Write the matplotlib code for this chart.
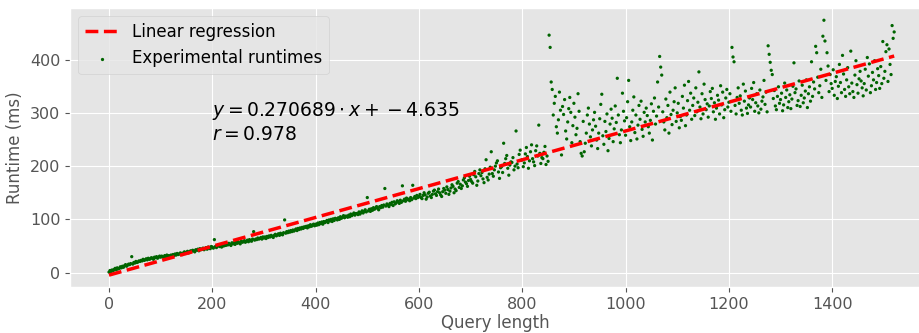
import numpy as np
import matplotlib
matplotlib.use("Agg")
import matplotlib.pyplot as plt

# ---- data ----
# Dense band: query lengths 0..838, every 2
x_band = np.arange(0, 840, 2)
y_band = [
    1, 4, 2, 5, 3, 6, 8, 5, 9, 7,
    8, 11, 9, 12, 10, 13, 15, 12, 14, 16,
    15, 17, 30, 16, 19, 18, 21, 19, 20, 22,
    21, 23, 22, 25, 23, 24, 26, 24, 27, 25,
    26, 28, 27, 25, 29, 28, 30, 27, 29, 31,
    29, 31, 30, 28, 32, 30, 33, 31, 32, 30,
    33, 31, 34, 32, 35, 33, 36, 34, 35, 37,
    36, 34, 37, 39, 36, 38, 40, 37, 39, 41,
    40, 42, 41, 39, 43, 42, 44, 41, 45, 43,
    44, 46, 43, 45, 47, 44, 48, 46, 45, 49,
    48, 46, 62, 49, 47, 50, 52, 49, 51, 48,
    52, 50, 53, 51, 54, 52, 55, 53, 51, 56,
    54, 56, 53, 57, 55, 58, 56, 54, 59, 57,
    58, 60, 57, 59, 61, 58, 62, 60, 59, 63,
    77, 61, 63, 62, 65, 63, 64, 66, 63, 67,
    65, 67, 64, 68, 66, 69, 67, 70, 68, 66,
    70, 72, 69, 71, 73, 70, 74, 72, 71, 75,
    99, 74, 77, 75, 78, 76, 79, 77, 80, 78,
    80, 82, 79, 83, 81, 84, 82, 85, 83, 86,
    85, 87, 84, 88, 86, 90, 87, 89, 91, 88,
    91, 89, 93, 90, 94, 92, 95, 91, 96, 94,
    96, 98, 94, 99, 97, 100, 96, 101, 98, 102,
    101, 99, 103, 100, 105, 102, 104, 107, 103, 106,
    106, 104, 108, 105, 110, 107, 109, 112, 108, 111,
    111, 109, 114, 110, 113, 116, 112, 115, 118, 114,
    141, 116, 119, 115, 120, 117, 122, 119, 121, 124,
    121, 118, 124, 122, 126, 123, 127, 158, 125, 129,
    127, 124, 130, 128, 132, 126, 133, 129, 131, 135,
    133, 130, 136, 132, 163, 135, 138, 134, 140, 137,
    138, 135, 141, 137, 164, 140, 143, 139, 145, 141,
    143, 147, 141, 139, 145, 150, 146, 138, 142, 149,
    151, 144, 141, 147, 153, 155, 148, 145, 152, 157,
    150, 146, 143, 152, 158, 155, 149, 161, 156, 147,
    153, 159, 165, 162, 150, 157, 154, 168, 171, 160,
    166, 158, 163, 174, 178, 170, 167, 162, 173, 181,
    175, 171, 168, 184, 190, 180, 164, 172, 186, 193,
    182, 188, 176, 169, 195, 212, 179, 174, 185, 198,
    227, 186, 181, 193, 200, 206, 210, 189, 177, 197,
    199, 188, 243, 205, 214, 220, 196, 183, 202, 208,
    207, 216, 193, 200, 266, 204, 197, 222, 230, 211,
    212, 199, 206, 223, 235, 218, 196, 210, 227, 240,
    214, 208, 201, 229, 238, 219, 277, 224, 205, 216,
]

# Scattered part: query lengths 840..1520, every 2
x_spread = np.arange(840, 1522, 2)
y_spread = [
    214, 226, 237, 203, 219, 209, 446, 423, 358, 344,
    296, 318, 331, 274, 262, 287, 339, 305, 221, 312,
    297, 325, 266, 251, 283, 308, 329, 301, 244, 276,
    318, 292, 259, 271, 336, 303, 246, 224, 219, 284,
    227, 243, 262, 296, 309, 279, 255, 238, 268, 287,
    301, 275, 249, 233, 262, 289, 316, 335, 257, 241,
    284, 265, 298, 229, 252, 279, 307, 290, 246, 270,
    313, 282, 365, 296, 259, 244, 268, 337, 303, 285,
    258, 291, 321, 361, 274, 248, 283, 305, 330, 263,
    296, 251, 277, 314, 288, 322, 269, 256, 301, 283,
    309, 295, 274, 262, 286, 317, 249, 303, 328, 279,
    294, 358, 311, 406, 386, 371, 302, 283, 268, 326,
    291, 314, 262, 339, 297, 278, 305, 321, 347, 284,
    300, 318, 272, 293, 286, 331, 309, 352, 276, 296,
    323, 359, 305, 337, 288, 314, 328, 295, 347, 302,
    320, 377, 311, 289, 336, 298, 354, 325, 306, 317,
    292, 313, 340, 327, 346, 302, 319, 288, 309, 333,
    324, 298, 351, 315, 339, 291, 306, 328, 344, 311,
    320, 336, 303, 423, 405, 396, 314, 298, 329, 347,
    318, 332, 305, 296, 354, 322, 341, 309, 299, 315,
    328, 311, 346, 325, 357, 303, 319, 336, 313, 300,
    343, 307, 322, 330, 361, 316, 339, 302, 426, 410,
    395, 380, 372, 327, 342, 313, 306, 331, 349, 318,
    325, 337, 304, 315, 356, 329, 343, 310, 321, 334,
    308, 326, 350, 394, 338, 345, 314, 323, 360, 312,
    333, 352, 319, 328, 341, 362, 310, 336, 349, 322,
    396, 331, 358, 345, 425, 413, 367, 338, 351, 382,
    329, 444, 474, 435, 361, 413, 388, 340, 372, 355,
    346, 381, 333, 359, 368, 327, 350, 391, 357, 338,
    408, 373, 344, 331, 362, 385, 349, 336, 416, 356,
    340, 329, 371, 398, 353, 337, 364, 378, 360, 347,
    332, 355, 382, 343, 404, 369, 392, 338, 351, 376,
    362, 398, 344, 357, 383, 370, 346, 387, 355, 434,
    365, 378, 415, 428, 359, 420, 391, 372, 464, 440,
    452,
]

slope = 0.270689
intercept = -4.635
r_value = 0.978

x_all = np.concatenate([x_band, x_spread])
y_all = np.concatenate([y_band, y_spread])

plt.style.use("ggplot")
fig = plt.figure(figsize=(9.2, 3.33), dpi=100)
ax = fig.add_axes([70 / 920, 1 - 287 / 333, 1 - 70 / 920, (287 - 8) / 333])

x_line = np.array([x_all.min(), x_all.max()])
ax.plot(x_line, slope * x_line + intercept, "--", color="red", lw=2.5,
        label="Linear regression", zorder=3)
# per-point sizes -> generic collection path (no integer-pixel marker snapping)
sizes = np.full(len(x_all), 5.5)
ax.scatter(x_all, y_all, s=sizes, color="darkgreen", label="Experimental runtimes",
           zorder=2, linewidths=0)

ax.text(200, 250, "$y = 0.270689 \\cdot x + -4.635$\n$r = %.3f$" % r_value,
        fontsize=13.5, color="black")

ax.set_xlim(-75.5, 1570)
ax.set_ylim(-27, 497)
ax.set_xticks([0, 200, 400, 600, 800, 1000, 1200, 1400])
ax.set_yticks([0, 100, 200, 300, 400])
ax.tick_params(labelsize=11.5)
ax.set_xlabel("Query length", fontsize=12, labelpad=2)
ax.set_ylabel("Runtime (ms)", fontsize=12)
ax.legend(loc="upper left", fontsize=12, markerscale=1.0)

fig.savefig("out.png", dpi=100)
